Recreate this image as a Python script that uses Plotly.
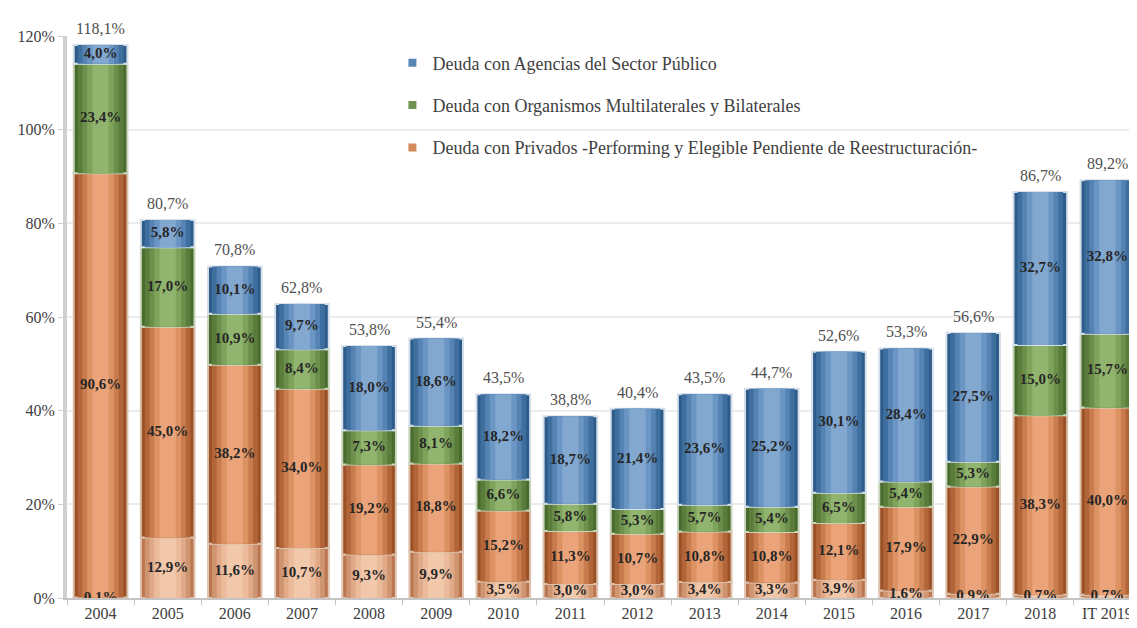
import numpy as np
import plotly.graph_objects as go

categories = ["2004", "2005", "2006", "2007", "2008", "2009", "2010", "2011",
              "2012", "2013", "2014", "2015", "2016", "2017", "2018", "IT 2019"]
# Privados - Elegible pendiente de reestructuración (light orange, bottom)
elegible = [0.1, 12.9, 11.6, 10.7, 9.3, 9.9, 3.5, 3.0, 3.0, 3.4, 3.3, 3.9, 1.6, 0.9, 0.7, 0.7]
# Privados - Performing (orange)
privados = [90.6, 45.0, 38.2, 34.0, 19.2, 18.8, 15.2, 11.3, 10.7, 10.8, 10.8, 12.1, 17.9, 22.9, 38.3, 40.0]
# Organismos Multilaterales y Bilaterales (green)
organismos = [23.4, 17.0, 10.9, 8.4, 7.3, 8.1, 6.6, 5.8, 5.3, 5.7, 5.4, 6.5, 5.4, 5.3, 15.0, 15.7]
# Agencias del Sector Público (blue)
agencias = [4.0, 5.8, 10.1, 9.7, 18.0, 18.6, 18.2, 18.7, 21.4, 23.6, 25.2, 30.1, 28.4, 27.5, 32.7, 32.8]

names = ["Deuda con Agencias del Sector Público",
         "Deuda con Organismos Multilaterales y Bilaterales",
         "Deuda con Privados -Performing y Elegible Pendiente de Reestructuración-"]

SERIF = "Liberation Serif, Times New Roman, serif"

segments = [
    dict(vals=elegible, halo="#e2c8b4",
         shades=["#b97650", "#cf9470", "#e0aa88", "#ebbb9b", "#f2c8ab"]),
    dict(vals=privados, halo="#dcc0aa",
         shades=["#9a5126", "#b26538", "#c97c4d", "#dd9263", "#eba47a"]),
    dict(vals=organismos, halo="#c9d6bd",
         shades=["#4a6b2e", "#5a7d3c", "#6c904b", "#7ea35b", "#91b56e"]),
    dict(vals=agencias, halo="#d6e0eb",
         shades=["#2e5c8a", "#3f6f9f", "#5583b3", "#6b96c3", "#83a8d0"]),
]
widths = [0.80, 0.68, 0.54, 0.40, 0.24]
legend_colors = ["#5a86b6", "#6e9350", "#d4895a"]

def fmt(v):
    return f"{v:.1f}".replace(".", ",") + "%"

fig = go.Figure()
base = np.zeros(len(categories))
label_x, label_y, label_t = [], [], []
for seg in segments:
    vals = np.array(seg["vals"], dtype=float)
    for j, (w, col) in enumerate(zip(widths, seg["shades"])):
        fig.add_trace(go.Bar(
            x=categories, y=vals, base=base, width=w,
            marker=dict(color=col,
                        line=dict(color=seg["halo"] if j == 0 else col,
                                  width=2 if j == 0 else 0)),
            showlegend=False, hoverinfo="skip"))
    label_x += categories
    label_y += list(base + vals / 2)
    label_t += [fmt(v) for v in vals]
    base = base + vals

totals = base

# legend entries
for nm, col in zip(names, legend_colors):
    fig.add_trace(go.Scatter(x=[None], y=[None], name=nm, mode="markers",
                             marker=dict(color=col, symbol="square", size=8),
                             legendgroup=nm, showlegend=True))

fig.add_trace(go.Scatter(x=label_x, y=label_y, text=label_t, mode="text",
                         textfont=dict(family=SERIF, size=15, color="#262626",
                                       weight="bold"),
                         showlegend=False, hoverinfo="skip"))

for i, t in enumerate(totals):
    fig.add_annotation(x=i, y=t, text=fmt(t), showarrow=False, yanchor="bottom",
                       yshift=6, font=dict(family=SERIF, size=16, color="#505050"))

fig.update_layout(
    width=1137, height=628,
    barmode="overlay",
    plot_bgcolor="white", paper_bgcolor="white",
    margin=dict(l=59, r=4, t=28, b=38),
    font=dict(family=SERIF, size=16, color="#404040"),
    legend=dict(x=0.303, y=0.985, xanchor="left", yanchor="top",
                itemwidth=30, tracegroupgap=16, bgcolor="rgba(0,0,0,0)",
                font=dict(family=SERIF, size=18, color="#404040")),
    showlegend=True,
)
fig.update_xaxes(type="category", showline=True, linecolor="#c4c4c4", linewidth=2,
                 ticks="outside", tickson="boundaries", ticklen=5, tickcolor="#c4c4c4",
                 tickfont=dict(family=SERIF, size=16, color="#404040"),
                 showgrid=False, range=[-0.5, len(categories) - 0.5])
fig.update_yaxes(range=[0, 120], tickvals=[0, 20, 40, 60, 80, 100, 120],
                 ticktext=["0%", "20%", "40%", "60%", "80%", "100%", "120%"],
                 showline=True, linecolor="#d0d0d0", linewidth=4,
                 ticks="outside", ticklen=5, tickcolor="#d0d0d0",
                 gridcolor="#ececec", gridwidth=2, zeroline=False,
                 tickfont=dict(family=SERIF, size=16, color="#404040"))

fig.write_html("out.html")
